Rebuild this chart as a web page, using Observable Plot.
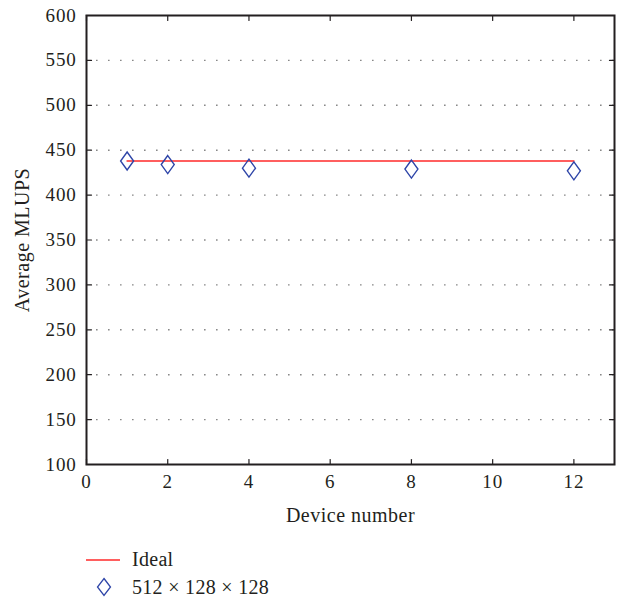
<!DOCTYPE html>
<html>
<head>
<meta charset="utf-8">
<script src="https://cdn.jsdelivr.net/npm/d3@7"></script>
<script src="https://cdn.jsdelivr.net/npm/@observablehq/plot@0.6"></script>
<style>
  html, body { margin: 0; padding: 0; background: #fff; }
  body { width: 618px; height: 601px; overflow: hidden; font-family: "Liberation Serif", "DejaVu Serif", serif; color: #231f20; }
  #legend { position: relative; height: 66px; }
  .row { position: absolute; left: 0; display: flex; align-items: center; font-size: 20px; letter-spacing: 0.3px; }
  .row svg { display: block; }
  svg.plot-chart g[aria-label="y-axis tick label"] text,
  svg.plot-chart g[aria-label="x-axis tick label"] text { letter-spacing: 0.8px; }
  svg.plot-chart g[aria-label="y-axis label"] text,
  svg.plot-chart g[aria-label="x-axis label"] text { letter-spacing: 0.5px; }
</style>
</head>
<body>
<div id="chart"></div>
<div id="legend"></div>
<script>
// Data
const devices = [1, 2, 4, 8, 12];
const mlups = [438, 434, 430, 429, 427];
const idealDevices = [1, 12];
const idealValue = 438;
const xTicks = [0, 2, 4, 6, 8, 10, 12];
const yTicks = [100, 150, 200, 250, 300, 350, 400, 450, 500, 550, 600];
const gridTicks = [150, 200, 250, 300, 350, 400, 450, 500, 550];
const seriesNames = ["Ideal", "512 × 128 × 128"];
const xLabel = "Device number";
const yLabel = "Average MLUPS";

const points = devices.map((d, i) => ({device: d, value: mlups[i]}));
const ideal = idealDevices.map(d => ({device: d, value: idealValue}));

const blue = "#2e45a8";
const red = "#ff2a2a";
const ink = "#231f20";

// tall diamond symbol
const tallDiamond = {
  draw(context, size) {
    const w = 6.5, h = 9;
    context.moveTo(0, -h);
    context.lineTo(w, 0);
    context.lineTo(0, h);
    context.lineTo(-w, 0);
    context.closePath();
  }
};
// tick shape for vectors
const tickShape = {
  draw(context, l) {
    context.moveTo(0, 0);
    context.lineTo(0, -l);
  }
};

const chart = Plot.plot({
  className: "plot-chart",
  width: 618,
  height: 535,
  marginLeft: 86,
  marginRight: 4,
  marginTop: 15,
  marginBottom: 71,
  style: {fontFamily: "'Liberation Serif', 'DejaVu Serif', serif", fontSize: "19px", color: ink, background: "#fff"},
  x: {domain: [0, 13]},
  y: {domain: [100, 600]},
  marks: [
    Plot.gridY(gridTicks, {stroke: "#888", strokeOpacity: 1, strokeWidth: 1.4, strokeDasharray: "1.6,10.4", strokeDashoffset: -10}),
    Plot.axisX(xTicks, {tickSize: 0, tickPadding: 10, fontSize: 19, label: null}),
    Plot.axisY(yTicks, {tickSize: 0, tickPadding: 10, fontSize: 19, label: null}),
    Plot.axisX({ticks: [], tickSize: 0, label: xLabel, labelAnchor: "center", labelArrow: "none", labelOffset: 57, fontSize: 20}),
    Plot.axisY({ticks: [], tickSize: 0, label: yLabel, labelAnchor: "center", labelArrow: "none", labelOffset: 72, fontSize: 20}),
    // inward ticks on all four sides
    Plot.vector(xTicks, {x: d => d, y: 100, length: 5, rotate: 0, anchor: "start", shape: tickShape, stroke: ink, strokeWidth: 1.2}),
    Plot.vector(xTicks, {x: d => d, y: 600, length: 5, rotate: 180, anchor: "start", shape: tickShape, stroke: ink, strokeWidth: 1.2}),
    Plot.vector(yTicks, {x: 0, y: d => d, length: 5, rotate: 90, anchor: "start", shape: tickShape, stroke: ink, strokeWidth: 1.2}),
    Plot.vector(yTicks, {x: 13, y: d => d, length: 5, rotate: -90, anchor: "start", shape: tickShape, stroke: ink, strokeWidth: 1.2}),
    Plot.line(ideal, {x: "device", y: "value", stroke: red, strokeWidth: 1.6}),
    Plot.dot(points, {x: "device", y: "value", symbol: tallDiamond, r: 5, stroke: blue, strokeWidth: 1.4, fill: "none"}),
    Plot.frame({stroke: ink, strokeWidth: 2})
  ]
});
document.getElementById("chart").appendChild(chart);

// Legend
const legend = document.getElementById("legend");
const row1 = document.createElement("div");
row1.className = "row";
row1.style.top = "12px";
row1.innerHTML = `<svg width="132" height="24"><line x1="86" x2="120" y1="13" y2="13" stroke="${red}" stroke-width="1.4"/></svg><span>${seriesNames[0]}</span>`;
const row2 = document.createElement("div");
row2.className = "row";
row2.style.top = "40px";
row2.innerHTML = `<svg width="132" height="24"><path d="M104,3.5 L110.5,12 L104,20.5 L97.5,12 Z" fill="none" stroke="${blue}" stroke-width="1.3"/></svg><span>${seriesNames[1]}</span>`;
legend.appendChild(row1);
legend.appendChild(row2);
</script>
</body>
</html>
